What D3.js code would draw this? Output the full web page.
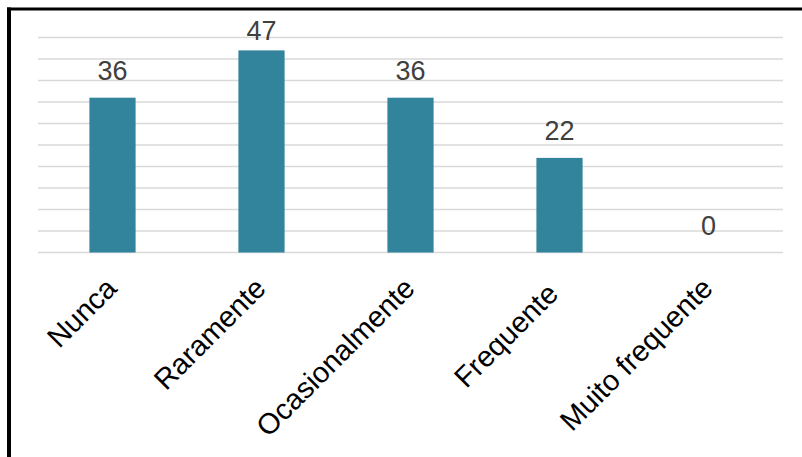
<!DOCTYPE html>
<html>
<head>
<meta charset="utf-8">
<script src="https://cdn.jsdelivr.net/npm/d3@7"></script>
<style>
  html, body { margin: 0; padding: 0; background: #fff; overflow: hidden; }
  svg { display: block; }
  .cat { white-space: pre; }
</style>
</head>
<body>
<svg id="chart" width="802" height="457"></svg>
<script>
const categories = ["Nunca", "Raramente", "Ocasionalmente", "Frequente ", "Muito frequente"];
const values = [36, 47, 36, 22, 0];
const yTicks = [0, 5, 10, 15, 20, 25, 30, 35, 40, 45, 50];

const W = 802, H = 457;
const plot = { left: 38, right: 783, top: 37.5, bottom: 252.5 };

const svg = d3.select("#chart");

const x = d3.scaleBand()
  .domain(categories)
  .range([plot.left, plot.right])
  .paddingInner(0.69)
  .paddingOuter(0.345);

const y = d3.scaleLinear()
  .domain([0, 50])
  .range([plot.bottom, plot.top]);

// gridlines
svg.append("g")
  .selectAll("line")
  .data(yTicks)
  .join("line")
  .attr("x1", plot.left)
  .attr("x2", plot.right)
  .attr("y1", d => y(d))
  .attr("y2", d => y(d))
  .attr("stroke", "#d9d9d9")
  .attr("stroke-width", 1.5);

// bars
svg.append("g")
  .selectAll("rect")
  .data(categories.map((c, i) => ({ c, v: values[i] })))
  .join("rect")
  .attr("x", d => x(d.c))
  .attr("width", x.bandwidth())
  .attr("y", d => y(d.v))
  .attr("height", d => y(0) - y(d.v))
  .attr("fill", "#31849b");

// value labels
svg.append("g")
  .selectAll("text")
  .data(categories.map((c, i) => ({ c, v: values[i] })))
  .join("text")
  .attr("x", d => x(d.c) + x.bandwidth() / 2)
  .attr("y", d => Math.max(y(d.v) - 18, 40))
  .attr("text-anchor", "middle")
  .attr("font-family", "Liberation Sans, Arial, sans-serif")
  .attr("font-size", 27)
  .attr("fill", "#404040")
  .text(d => d.v);

// category labels
svg.append("g")
  .selectAll("text")
  .data(categories)
  .join("text")
  .attr("class", "cat")
  .attr("transform", d => `translate(${x(d) + x.bandwidth() / 2 + 6},290) rotate(-45)`)
  .attr("text-anchor", "end")
  .attr("font-family", "Liberation Sans, Arial, sans-serif")
  .attr("font-size", 29)
  .attr("fill", "#000")
  .text(d => d);

// frame (partially visible)
svg.append("line")
  .attr("x1", 7).attr("x2", W)
  .attr("y1", 9).attr("y2", 9)
  .attr("stroke", "#000").attr("stroke-width", 3);
svg.append("line")
  .attr("x1", 9).attr("x2", 9)
  .attr("y1", 7.5).attr("y2", H)
  .attr("stroke", "#000").attr("stroke-width", 4);
</script>
</body>
</html>
